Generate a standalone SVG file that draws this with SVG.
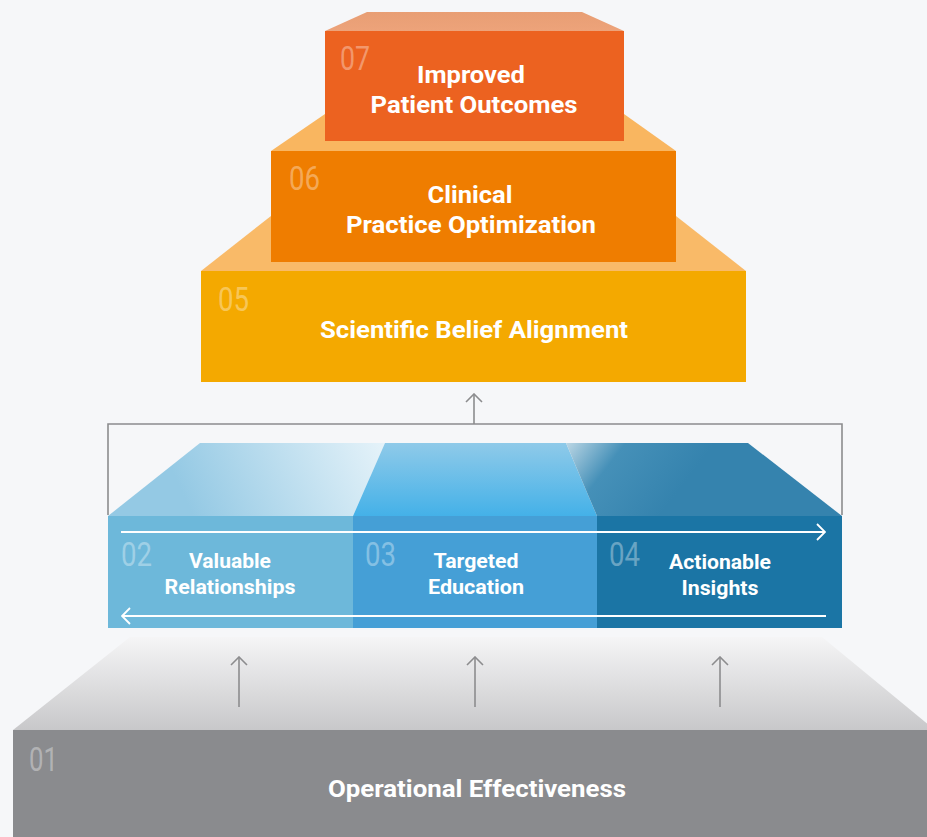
<svg xmlns="http://www.w3.org/2000/svg" width="927" height="837" viewBox="0 0 927 837">
<style>
.lbl{font-family:Roboto,"Liberation Sans",sans-serif;font-weight:700;fill:#fff;text-anchor:middle}
.num{font-family:Roboto,"Liberation Sans",sans-serif;font-weight:400;fill:#fff;fill-opacity:0.35}
.gline{stroke:#8c8c8e;stroke-width:1.6;fill:none}
.wline{stroke:#fff;stroke-width:1.8;fill:none}
</style>
<defs>
<marker id="gh" viewBox="0 0 10 18" refX="9" refY="9" markerWidth="10" markerHeight="18" markerUnits="userSpaceOnUse" orient="auto">
<path d="M1,1 L9,9 L1,17" fill="none" stroke="#8c8c8e" stroke-width="1.6"/>
</marker>
<marker id="wh" viewBox="0 0 10 18" refX="9" refY="9" markerWidth="10" markerHeight="18" markerUnits="userSpaceOnUse" orient="auto">
<path d="M1,1 L9,9 L1,17" fill="none" stroke="#fff" stroke-width="1.8"/>
</marker>
<linearGradient id="gTop" x1="0" y1="0" x2="0" y2="1">
<stop offset="0" stop-color="#f5f5f6"/><stop offset="1" stop-color="#c8c8ca"/>
</linearGradient>
<linearGradient id="b1" gradientUnits="userSpaceOnUse" x1="390" y1="440" x2="200" y2="530">
<stop offset="0" stop-color="#e8f4fa"/><stop offset="1" stop-color="#94c9e4"/>
</linearGradient>
<linearGradient id="b2" x1="0" y1="0" x2="0" y2="1">
<stop offset="0" stop-color="#8fcae9"/><stop offset="1" stop-color="#44b1e8"/>
</linearGradient>
<linearGradient id="b3" gradientUnits="userSpaceOnUse" x1="566" y1="443" x2="660" y2="515">
<stop offset="0" stop-color="#bcd7e5"/><stop offset="0.4" stop-color="#4590b8"/><stop offset="1" stop-color="#3583ae"/>
</linearGradient>
<linearGradient id="o7" x1="0" y1="0" x2="0" y2="1">
<stop offset="0" stop-color="#e89e74"/><stop offset="1" stop-color="#eda37a"/>
</linearGradient>
</defs>
<rect width="927" height="837" fill="#f6f7f9"/>

<g id="node01">
<polygon points="13,730 935,730 822,637 130,637" fill="url(#gTop)"/>
<rect x="13" y="730" width="920" height="107" fill="#8a8b8e"/>
<text class="num" x="29" y="771" font-size="34" textLength="29" lengthAdjust="spacingAndGlyphs">01</text>
<text class="lbl" x="477" y="797" font-size="24" textLength="298" lengthAdjust="spacingAndGlyphs">Operational Effectiveness</text>
</g>

<g id="node02">
<polygon points="108,516 353,516 385,443 200,443" fill="url(#b1)"/>
<rect x="108" y="516" width="245" height="112" fill="#6db8da"/>
<text class="num" x="121" y="566" font-size="34" textLength="31" lengthAdjust="spacingAndGlyphs">02</text>
<text class="lbl" x="230" y="568" font-size="20" textLength="82" lengthAdjust="spacingAndGlyphs">Valuable</text>
<text class="lbl" x="230" y="594" font-size="20" textLength="131" lengthAdjust="spacingAndGlyphs">Relationships</text>
</g>

<g id="node03">
<polygon points="353,516 597,516 566,443 385,443" fill="url(#b2)"/>
<rect x="353" y="516" width="244" height="112" fill="#459fd6"/>
<text class="num" x="365" y="566" font-size="34" textLength="31" lengthAdjust="spacingAndGlyphs">03</text>
<text class="lbl" x="476" y="568" font-size="20" textLength="85" lengthAdjust="spacingAndGlyphs">Targeted</text>
<text class="lbl" x="476" y="594" font-size="20" textLength="96" lengthAdjust="spacingAndGlyphs">Education</text>
</g>

<g id="node04">
<polygon points="597,516 842,516 748,443 566,443" fill="url(#b3)"/>
<rect x="597" y="516" width="245" height="112" fill="#1b75a5"/>
<text class="num" x="609" y="566" font-size="34" textLength="31" lengthAdjust="spacingAndGlyphs">04</text>
<text class="lbl" x="720" y="569" font-size="20" textLength="102" lengthAdjust="spacingAndGlyphs">Actionable</text>
<text class="lbl" x="720" y="595" font-size="20" textLength="77" lengthAdjust="spacingAndGlyphs">Insights</text>
</g>

<g id="node05">
<polygon points="201,271 746,271 676,216 271,216" fill="#f9ba68"/>
<rect x="201" y="271" width="545" height="111" fill="#f4a900"/>
<text class="num" x="218" y="311" font-size="34" textLength="31" lengthAdjust="spacingAndGlyphs">05</text>
<text class="lbl" x="474" y="338" font-size="24" textLength="308" lengthAdjust="spacingAndGlyphs">Scientific Belief Alignment</text>
</g>

<g id="node06">
<polygon points="271,151 676,151 624,114 325,114" fill="#f9b660"/>
<rect x="271" y="151" width="405" height="111" fill="#ef7d00"/>
<text class="num" x="289" y="190" font-size="34" textLength="31" lengthAdjust="spacingAndGlyphs">06</text>
<text class="lbl" x="470" y="203" font-size="24" textLength="85" lengthAdjust="spacingAndGlyphs">Clinical</text>
<text class="lbl" x="471" y="233" font-size="24" textLength="250" lengthAdjust="spacingAndGlyphs">Practice Optimization</text>
</g>

<g id="node07">
<polygon points="325,31 624,31 582,12 367,12" fill="url(#o7)"/>
<rect x="325" y="31" width="299" height="110" fill="#ec6220"/>
<text class="num" x="340" y="70" font-size="34" textLength="30" lengthAdjust="spacingAndGlyphs">07</text>
<text class="lbl" x="471" y="83" font-size="24" textLength="108" lengthAdjust="spacingAndGlyphs">Improved</text>
<text class="lbl" x="474" y="113" font-size="24" textLength="207" lengthAdjust="spacingAndGlyphs">Patient Outcomes</text>
</g>

<g id="connectors">
<path class="gline" d="M108,515 V424 H842 V515"/>
<line class="gline" x1="474" y1="424" x2="474" y2="394" marker-end="url(#gh)"/>
<line class="gline" x1="239" y1="707" x2="239" y2="657" marker-end="url(#gh)"/>
<line class="gline" x1="475" y1="707" x2="475" y2="657" marker-end="url(#gh)"/>
<line class="gline" x1="720" y1="707" x2="720" y2="657" marker-end="url(#gh)"/>
<line class="wline" x1="121" y1="532" x2="825" y2="532" marker-end="url(#wh)"/>
<line class="wline" x1="826" y1="616" x2="122" y2="616" marker-end="url(#wh)"/>
</g>
</svg>
